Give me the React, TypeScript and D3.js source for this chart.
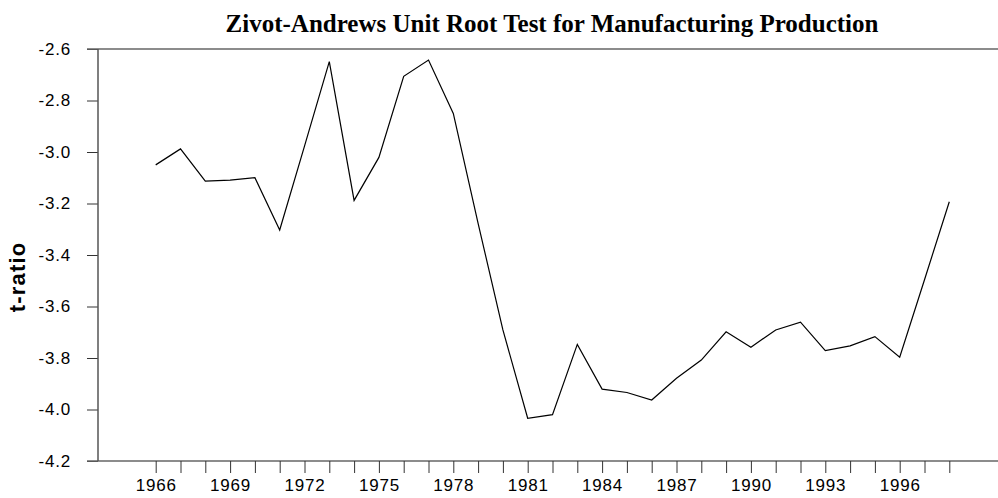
import React, { useEffect, useRef } from 'react';
import * as d3 from 'd3';

const years = [
  1966, 1967, 1968, 1969, 1970, 1971, 1972, 1973, 1974, 1975, 1976,
  1977, 1978, 1979, 1980, 1981, 1982, 1983, 1984, 1985, 1986, 1987,
  1988, 1989, 1990, 1991, 1992, 1993, 1994, 1995, 1996, 1997, 1998,
];
const tRatio = [
  -3.05, -2.988, -3.113, -3.109, -3.1, -3.303, -2.977, -2.649, -3.188, -3.021, -2.706,
  -2.643, -2.85, -3.277, -3.691, -4.034, -4.02, -3.747, -3.921, -3.934, -3.963, -3.879,
  -3.808, -3.698, -3.758, -3.691, -3.661, -3.771, -3.753, -3.717, -3.797, -3.496, -3.193,
];
const xTickLabels = [1966, 1969, 1972, 1975, 1978, 1981, 1984, 1987, 1990, 1993, 1996];
const yTicks = [-2.6, -2.8, -3.0, -3.2, -3.4, -3.6, -3.8, -4.0, -4.2];

const W = 998;
const H = 498;

const App = () => {
  const ref = useRef<SVGSVGElement>(null);

  useEffect(() => {
    const svg = d3.select(ref.current);
    svg.selectAll('*').remove();

    const axisX = 98;
    const top = 49;
    const bottom = 461;
    const x = d3.scaleLinear().domain([1966, 1998]).range([155.7, 949.3]);
    const y = d3.scaleLinear().domain([-4.2, -2.6]).range([bottom, top]);
    const axisColor = '#666';
    const tickColor = '#333';
    const sans = 'Arial, "Liberation Sans", sans-serif';

    // title
    svg.append('text')
      .attr('x', 552)
      .attr('y', 32)
      .attr('text-anchor', 'middle')
      .attr('font-family', '"Times New Roman", "Liberation Serif", serif')
      .attr('font-weight', 'bold')
      .attr('font-size', 25)
      .attr('fill', '#000')
      .text('Zivot-Andrews Unit Root Test for Manufacturing Production');

    // y axis
    const yAxis = svg.append('g')
      .attr('transform', `translate(${axisX},0)`)
      .call(d3.axisLeft(y).tickValues(yTicks).tickSize(11).tickPadding(16)
        .tickFormat(d3.format('.1f')));
    yAxis.select('.domain').remove();
    yAxis.selectAll('line').attr('stroke', tickColor);
    yAxis.selectAll('text')
      .attr('font-family', sans)
      .attr('font-size', 17)
      .attr('letter-spacing', 0.8)
      .attr('fill', '#000')
      .text(d => d3.format('.1f')(d as number).replace('−', '-'));

    // top and bottom frame lines
    [top, bottom].forEach(yy => {
      svg.append('line')
        .attr('x1', axisX - 11).attr('x2', W)
        .attr('y1', yy).attr('y2', yy)
        .attr('stroke', axisColor).attr('stroke-width', 1.5);
    });

    svg.append('line')
      .attr('x1', axisX).attr('x2', axisX)
      .attr('y1', top).attr('y2', bottom)
      .attr('stroke', '#555').attr('stroke-width', 1.5);

    // x axis ticks (every year) and labels
    const xAxis = svg.append('g')
      .attr('transform', `translate(0,${bottom})`)
      .call(d3.axisBottom(x).tickValues(years).tickSize(12)
        .tickFormat(d => (xTickLabels.includes(d as number) ? String(d) : '')));
    xAxis.select('.domain').remove();
    xAxis.selectAll('line').attr('stroke', tickColor);
    xAxis.selectAll('text')
      .attr('y', 29.5)
      .attr('dy', 0)
      .attr('font-family', sans)
      .attr('font-size', 17)
      .attr('letter-spacing', 0.8)
      .attr('fill', '#000');

    // y label
    svg.append('text')
      .attr('transform', `translate(25,277) rotate(-90)`)
      .attr('text-anchor', 'middle')
      .attr('font-family', sans)
      .attr('font-weight', 'bold')
      .attr('font-size', 22)
      .attr('letter-spacing', 1.2)
      .attr('fill', '#000')
      .text('t-ratio');

    // series line
    const line = d3.line<number>()
      .x((_, i) => x(years[i]))
      .y(d => y(d));

    svg.append('path')
      .datum(tRatio)
      .attr('fill', 'none')
      .attr('stroke', '#000')
      .attr('stroke-width', 1.2)
      .attr('d', line);
  }, []);

  return (
    <svg
      ref={ref}
      width={W}
      height={H}
      style={{ position: 'absolute', left: 0, top: 0, background: '#fff' }}
    />
  );
};

export default App;
